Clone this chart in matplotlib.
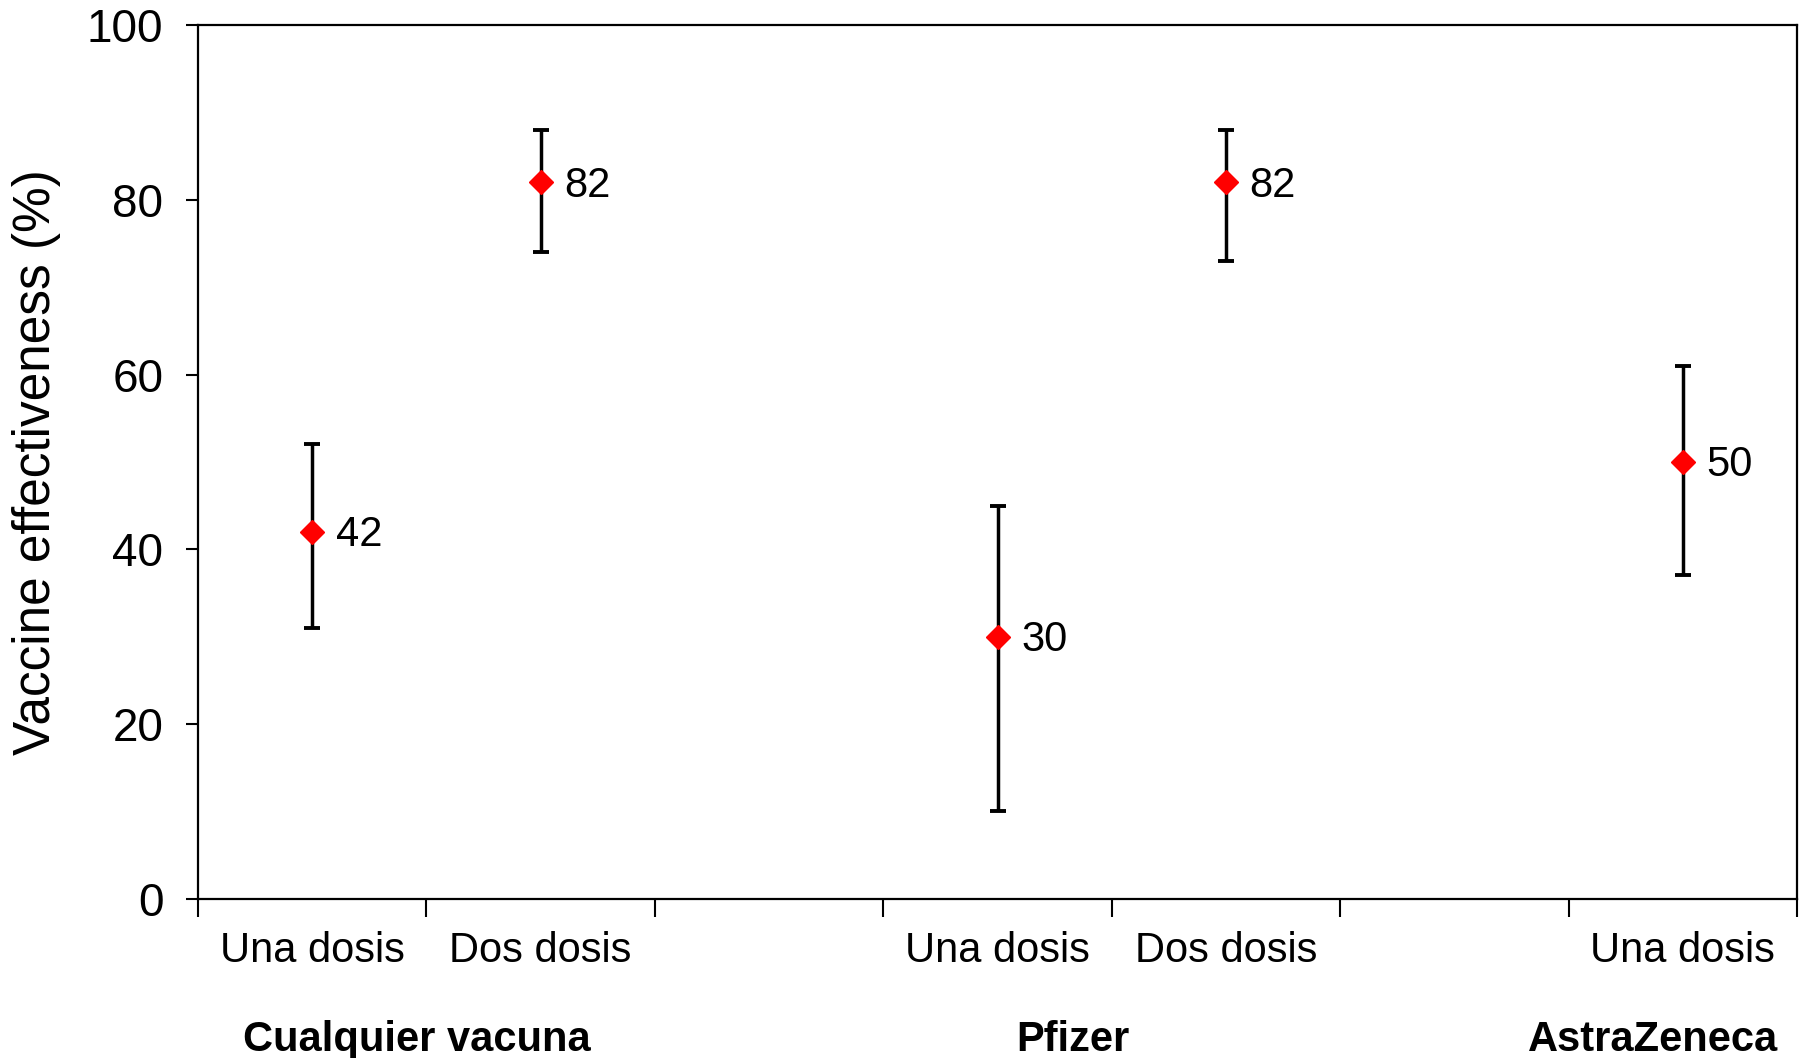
import matplotlib
matplotlib.use("Agg")
import matplotlib.pyplot as plt
import matplotlib.transforms as mtransforms
import numpy as np

plt.rcParams['font.family'] = ['Liberation Sans', 'DejaVu Sans']

# ---- data ----
slot_labels = ["Una dosis", "Dos dosis", "", "Una dosis", "Dos dosis", "", "Una dosis"]
point_slots = [0, 1, 3, 4, 6]
estimates = [42, 82, 30, 82, 50]
ci_low = [31, 74, 10, 73, 37]
ci_high = [52, 88, 45, 88, 61]
group_labels = ["Cualquier vacuna", "Pfizer", "AstraZeneca"]
group_centers = [0.96, 3.83, 6.37]
y_ticks = [0, 20, 40, 60, 80, 100]
y_label = "Vaccine effectiveness (%)"

W, H = 1804, 1058
fig = plt.figure(figsize=(W / 100, H / 100), dpi=100)
ax = fig.add_axes([198 / W, 1 - 898.6 / H, (1797 - 198) / W, (898.6 - 25.3) / H])

x = np.array(point_slots) + 0.5
est = np.array(estimates, dtype=float)
yerr = np.vstack([est - np.array(ci_low), np.array(ci_high) - est])

ax.errorbar(x, est, yerr=yerr, fmt='none', ecolor='black', elinewidth=2.5,
            capsize=5.5, capthick=2.8, zorder=2)
ax.plot(x, est, linestyle='none', marker='D', markersize=12.5,
        markerfacecolor='#ff0000', markeredgecolor='#ff0000', zorder=3)

for xi, yi in zip(x, est):
    ax.annotate(f"{yi:.0f}", (xi, yi), xytext=(17, -2.5), textcoords='offset points',
                ha='left', va='center', fontsize=30, color='black')

ax.set_xlim(0, len(slot_labels))
ax.set_ylim(0, 100)

# major x ticks at slot boundaries, minor ticks carry labels
ax.set_xticks(np.arange(0, len(slot_labels) + 1))
ax.set_xticklabels([])
ax.set_xticks(np.arange(len(slot_labels)) + 0.5, minor=True)
ax.set_xticklabels(slot_labels, minor=True, fontsize=30)
ax.tick_params(axis='x', which='major', direction='out', length=13, width=1.5)
ax.tick_params(axis='x', which='minor', length=0, pad=23)

ax.set_yticks(y_ticks)
ax.set_yticklabels([str(t) for t in y_ticks], fontsize=33)
ax.tick_params(axis='y', direction='out', length=9, width=1.5, pad=16)

for s in ax.spines.values():
    s.set_linewidth(1.6)
    s.set_color('black')

ax.set_ylabel(y_label, fontsize=37)
ax.yaxis.set_label_coords((37 - 198) / (1797 - 198), 0.5)
ax.yaxis.label.set_va('center')

trans = mtransforms.blended_transform_factory(ax.transData, fig.transFigure)
for lab, xc in zip(group_labels, group_centers):
    ax.text(xc, 1 - 1040 / H, lab, transform=trans, ha='center', va='center',
            fontsize=30, fontweight='bold', color='black')

fig.savefig("out.png", dpi=100, facecolor='white')
